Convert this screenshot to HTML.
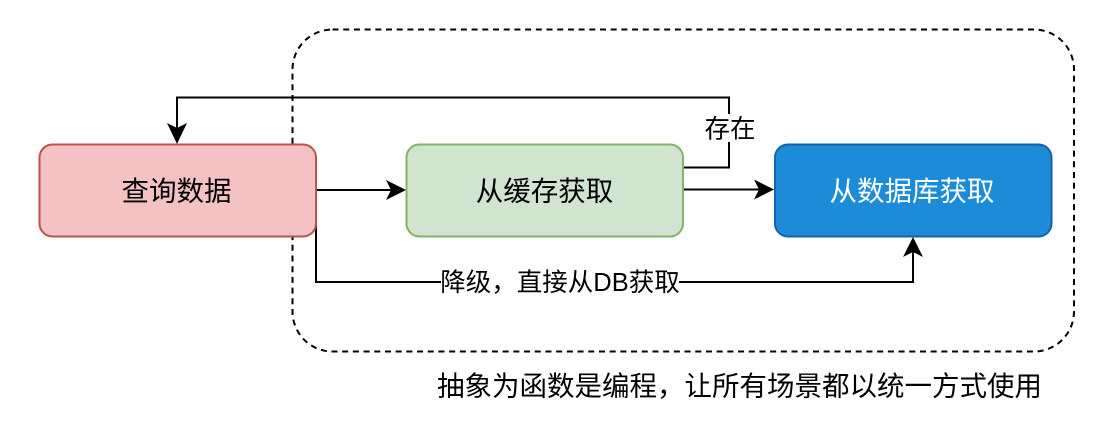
<!DOCTYPE html>
<html>
<head>
<meta charset="utf-8">
<style>
  html, body { margin: 0; padding: 0; background: #ffffff; }
  body { width: 1116px; height: 424px; overflow: hidden; }
  svg { display: block; }
  text { font-family: "Liberation Sans", "Noto Sans CJK SC", sans-serif; }
</style>
</head>
<body>
<svg width="1116" height="424" viewBox="0 0 1116 424" xmlns="http://www.w3.org/2000/svg">
  <rect x="0" y="0" width="1116" height="424" fill="#ffffff"/>

  <!-- dashed container -->
  <rect x="292.5" y="29.5" width="781.5" height="322" rx="40" ry="40" fill="none" stroke="#000000" stroke-width="2" stroke-dasharray="6 4.7"/>

  <!-- loop line: green -> up -> left -> down to red -->
  <polyline points="683,167.5 729,167.5 729,97.5 177,97.5 177,128" fill="none" stroke="#000" stroke-width="2"/>
  <polygon points="177,144 167,123 177,128 187,123" fill="#000"/>

  <!-- red -> green -->
  <line x1="316" y1="190" x2="391" y2="190" stroke="#000" stroke-width="2"/>
  <polygon points="406,190 386,180 391,190 386,200" fill="#000"/>

  <!-- green -> blue -->
  <line x1="683" y1="189.5" x2="759" y2="189.5" stroke="#000" stroke-width="2"/>
  <polygon points="774,189.5 754,179.5 759,189.5 754,199.5" fill="#000"/>

  <!-- bottom path: red -> down -> right -> up to blue -->
  <polyline points="316,212 316,282 913,282 913,252" fill="none" stroke="#000" stroke-width="2"/>
  <polygon points="913,237 903,257 913,252 923,257" fill="#000"/>

  <!-- boxes -->
  <rect x="39.5" y="144.5" width="276.5" height="92" rx="13" ry="13" fill="#f4c2c2" stroke="#b85450" stroke-width="2"/>
  <rect x="406.5" y="144.5" width="276.5" height="92" rx="13" ry="13" fill="#d0e4cf" stroke="#82b366" stroke-width="2"/>
  <rect x="775" y="144.5" width="276.5" height="92" rx="13" ry="13" fill="#1c8cd9" stroke="#1662a6" stroke-width="2"/>

  <!-- box labels -->
  <text x="176.5" y="200.5" font-size="27.5" text-anchor="middle" fill="#000">查询数据</text>
  <text x="544.5" y="200.5" font-size="27.5" text-anchor="middle" fill="#000">从缓存获取</text>
  <text x="912" y="200.5" font-size="27.5" text-anchor="middle" fill="#ffffff">从数据库获取</text>

  <!-- edge labels -->
  <rect x="706" y="114" width="47" height="28" fill="#ffffff"/>
  <text x="730" y="137.5" font-size="25.5" text-anchor="middle" fill="#000">存在</text>

  <rect x="441" y="268" width="238" height="28" fill="#ffffff"/>
  <text x="560" y="291" font-size="25.5" text-anchor="middle" fill="#000">降级，直接从DB获取</text>

  <!-- caption -->
  <text x="437" y="395.5" font-size="27.5" fill="#000">抽象为函数是编程，让所有场景都以统一方式使用</text>
</svg>
</body>
</html>
